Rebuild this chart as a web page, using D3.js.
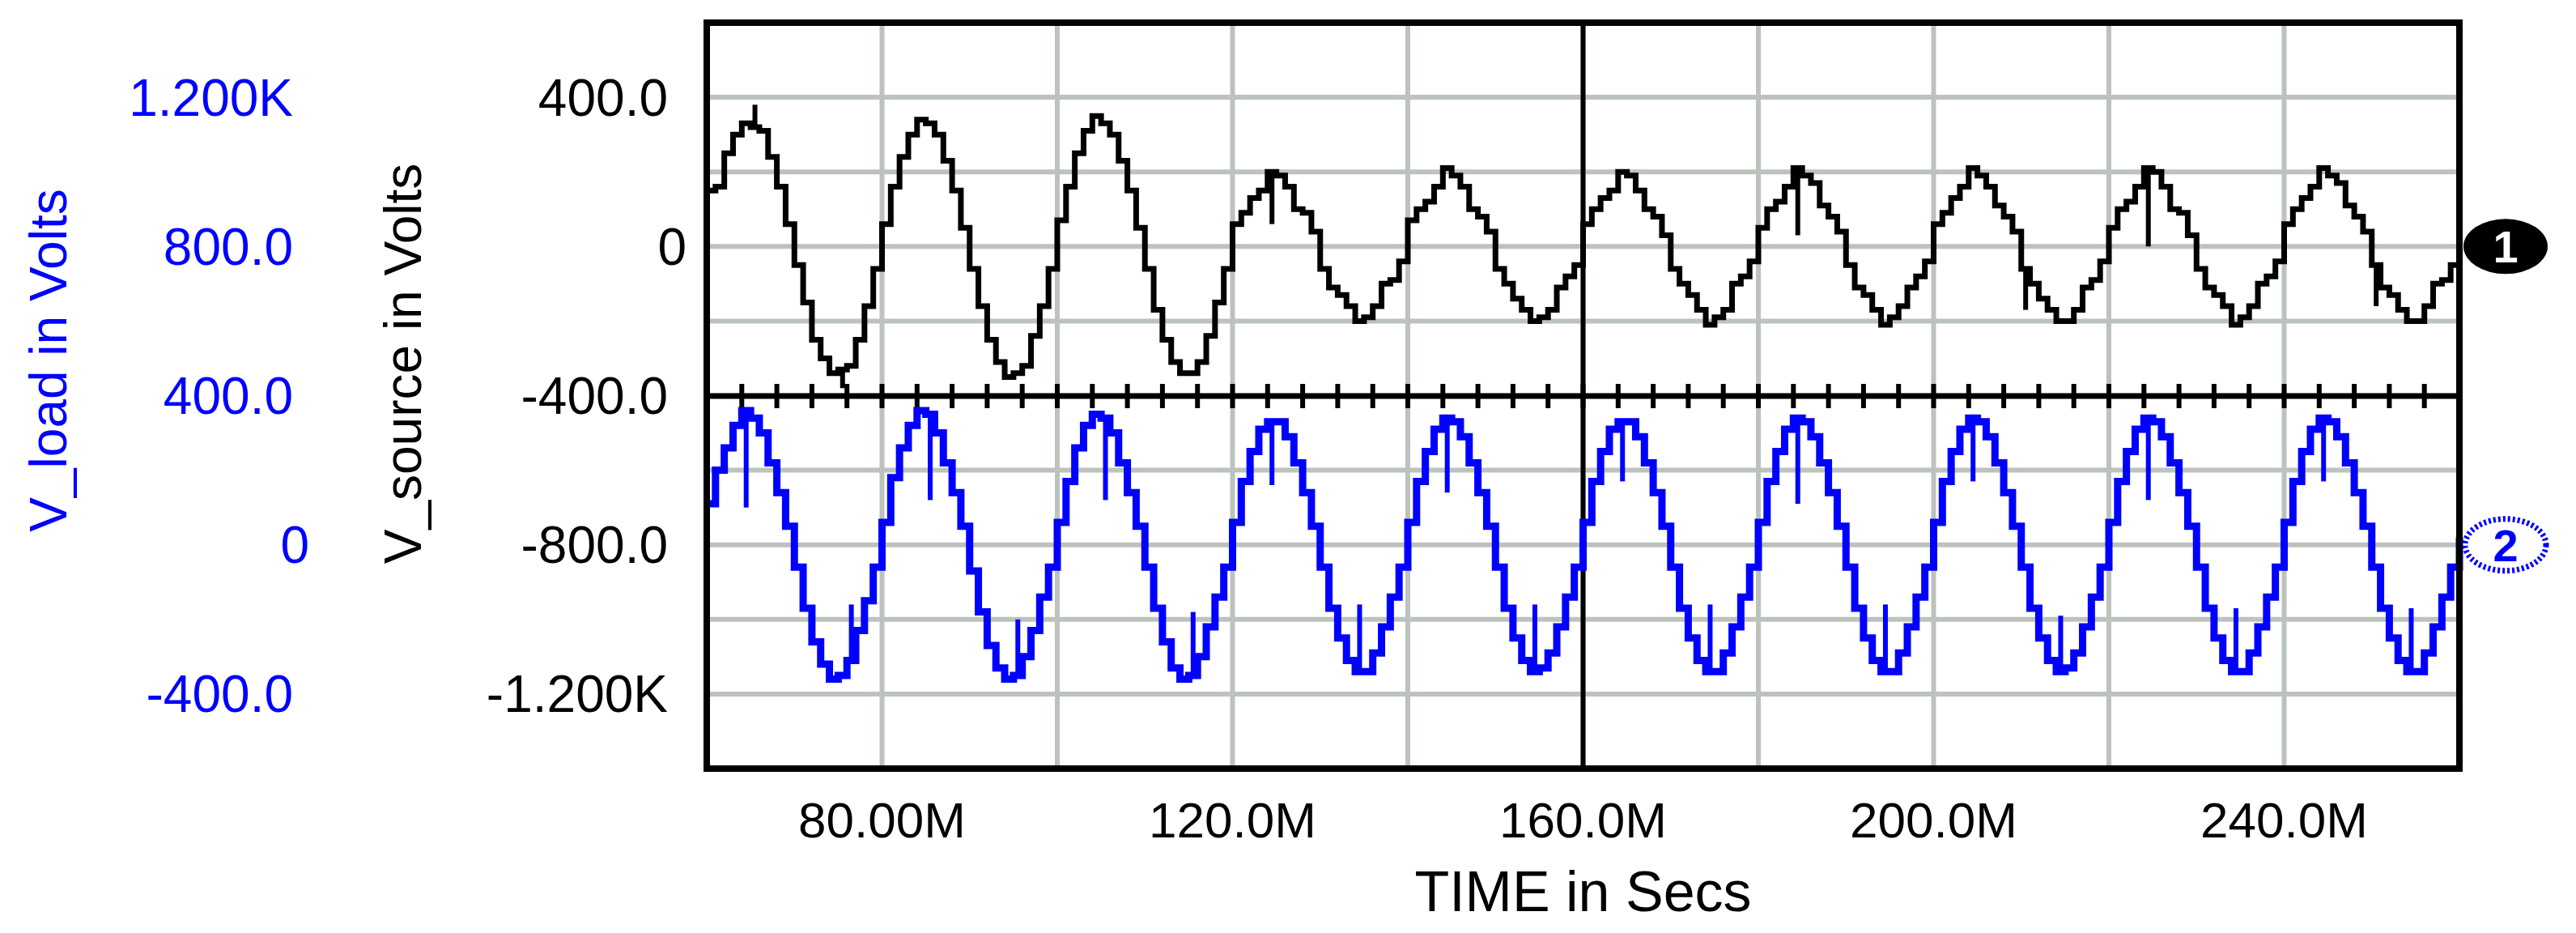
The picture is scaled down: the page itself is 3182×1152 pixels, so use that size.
<!DOCTYPE html>
<html><head><meta charset="utf-8">
<script src="https://cdn.jsdelivr.net/npm/d3@7/dist/d3.min.js"></script>
<style>body{margin:0;background:#fff}text{font-family:"Liberation Sans",Arial,sans-serif}</style>
</head><body><svg id="c" width="3182" height="1152"></svg>
<script>
// time in ms (M = milli), sample every 1 ms
const timeStart = 60, timeEnd = 260;
const xTickVals = [80,120,160,200,240];
const xTickLabels = ["80.00M","120.0M","160.0M","200.0M","240.0M"];
const srcTickVals = [400,0,-400,-800,-1200];
const srcTickLabels = ["400.0","0","-400.0","-800.0","-1.200K"];
const loadTickVals = [1200,800,400,0,-400];
const loadTickLabels = ["1.200K","800.0","400.0","0","-400.0"];
// V_source samples (V)
const vSource = [
 150,160,250,300,330,320,310,240,160,60,-50,-150,-250,-300,-340,-330,-320,-250,-160,-60,
 60,160,240,300,340,330,300,230,150,50,-60,-160,-250,-310,-350,-340,-320,-240,-160,-60,
 70,160,250,310,350,330,300,230,150,50,-60,-170,-250,-310,-340,-340,-310,-240,-150,-60,
 60,90,130,150,200,190,160,100,90,40,-60,-110,-130,-160,-200,-190,-160,-100,-90,-40,
 70,100,120,160,210,190,160,100,80,40,-60,-100,-140,-170,-200,-190,-170,-110,-80,-50,
 60,100,130,150,200,190,150,100,80,30,-60,-100,-130,-170,-210,-190,-170,-100,-80,-40,
 50,100,120,160,210,190,170,110,80,40,-50,-110,-130,-170,-210,-190,-160,-110,-80,-40,
 60,90,130,160,210,190,160,110,80,40,-60,-100,-140,-170,-200,-200,-170,-110,-90,-40,
 50,100,120,160,210,200,160,100,90,30,-60,-110,-130,-160,-210,-190,-160,-100,-80,-40,
 60,100,130,160,210,190,170,110,80,40,-50,-110,-130,-170,-200,-200,-160,-100,-90,-50,
 -60
];
// V_load samples (V)
const vLoad = [
 110,200,260,320,360,340,300,220,140,50,-60,-170,-260,-320,-360,-350,-310,-230,-150,-60,
 60,180,260,320,360,350,300,220,140,50,-70,-180,-270,-330,-360,-350,-300,-230,-140,-60,
 60,170,260,320,350,340,300,220,140,50,-60,-170,-260,-330,-360,-350,-300,-220,-140,-60,
 60,170,250,310,330,330,290,220,140,50,-60,-170,-250,-310,-340,-340,-290,-220,-140,-60,
 60,170,250,310,340,330,290,220,140,50,-60,-170,-250,-310,-340,-330,-290,-220,-140,-60,
 60,170,250,310,330,330,290,220,140,50,-60,-170,-250,-310,-340,-340,-290,-220,-140,-60,
 60,170,250,310,340,330,290,220,140,50,-60,-170,-250,-310,-340,-340,-290,-220,-140,-60,
 60,170,250,310,340,330,290,220,140,50,-60,-170,-250,-310,-340,-330,-290,-220,-140,-60,
 60,170,250,310,340,330,290,220,140,50,-60,-170,-250,-310,-340,-340,-290,-220,-140,-60,
 60,170,250,310,340,330,290,220,140,50,-60,-170,-250,-310,-340,-340,-290,-220,-140,-60,
 20
];
// spikes: time, value reached
const loadSpikeT = [64.5,76.5,85.5,95.5,105.5,115.5,124.5,134.5,144.5,154.5,164.5,174.5,184.5,194.5,204.5,214.5,224.5,234.5,244.5,254.5];
const loadSpikeV = [100,-160,120,-200,120,-180,160,-160,140,-160,170,-160,110,-160,170,-190,120,-170,170,-170];
const srcSpikeT = [65.5,75.5,124.5,164.5,184.5,210.5,224.5,250.5];
const srcSpikeV = [380,-380,60,200,30,-170,0,-160];

const svg = d3.select("#c");
const L=873,R=3038,T=28,B=949,MID=489;
const x = d3.scaleLinear().domain([timeStart,timeEnd]).range([L,R]);
const yS = d3.scaleLinear().domain([-1400,600]).range([B,T]);
const yL = d3.scaleLinear().domain([-600,1400]).range([B,T]);
const grid="#bcc3bd";
svg.append("g").selectAll("line").data(d3.range(80,260,20)).join("line")
 .attr("x1",d=>x(d)).attr("x2",d=>x(d)).attr("y1",T).attr("y2",B).attr("stroke",grid).attr("stroke-width",6);
svg.append("g").selectAll("line").data(d3.range(-1200,600,200)).join("line")
 .attr("x1",L).attr("x2",R).attr("y1",d=>yS(d)).attr("y2",d=>yS(d)).attr("stroke",grid).attr("stroke-width",6);
svg.append("line").attr("x1",L).attr("x2",R).attr("y1",MID).attr("y2",MID).attr("stroke","#000").attr("stroke-width",7);
svg.append("line").attr("x1",x(160)).attr("x2",x(160)).attr("y1",T).attr("y2",B).attr("stroke","#000").attr("stroke-width",6);
svg.append("g").selectAll("line").data(d3.range(64,260,4)).join("line")
 .attr("x1",d=>x(d)).attr("x2",d=>x(d)).attr("y1",MID-15).attr("y2",MID+15).attr("stroke","#000").attr("stroke-width",6);
const pts = arr => arr.map((v,i)=>[timeStart+i,v]);
const lineS = d3.line().x(d=>x(d[0])).y(d=>yS(d[1])).curve(d3.curveStepAfter);
const lineL = d3.line().x(d=>x(d[0])).y(d=>yL(d[1])).curve(d3.curveStepAfter);
svg.append("path").attr("d",lineL(pts(vLoad))).attr("fill","none").attr("stroke","#0000ff").attr("stroke-width",9);
svg.append("path").attr("d",lineS(pts(vSource))).attr("fill","none").attr("stroke","#000").attr("stroke-width",7);
const vAt=(arr,t)=>arr[Math.floor(t)-timeStart];
svg.append("g").selectAll("line").data(loadSpikeT).join("line")
 .attr("x1",d=>x(d)).attr("x2",d=>x(d)).attr("y1",d=>yL(vAt(vLoad,d))).attr("y2",(d,i)=>yL(loadSpikeV[i]))
 .attr("stroke","#0000ff").attr("stroke-width",6);
svg.append("g").selectAll("line").data(srcSpikeT).join("line")
 .attr("x1",d=>x(d)).attr("x2",d=>x(d)).attr("y1",d=>yS(vAt(vSource,d))).attr("y2",(d,i)=>yS(srcSpikeV[i]))
 .attr("stroke","#000").attr("stroke-width",6);
svg.append("rect").attr("x",L).attr("y",T).attr("width",R-L).attr("height",B-T).attr("fill","none").attr("stroke","#000").attr("stroke-width",8);
const fs=64;
svg.append("g").selectAll("text").data(srcTickVals).join("text")
 .attr("x",d=>d===0?848:825).attr("y",d=>yS(d)).attr("dy","0.35em").attr("text-anchor","end")
 .attr("font-size",fs).attr("fill","#000").text((d,i)=>srcTickLabels[i]);
svg.append("g").selectAll("text").data(loadTickVals).join("text")
 .attr("x",d=>d===0?382:362).attr("y",d=>yL(d)).attr("dy","0.35em").attr("text-anchor","end")
 .attr("font-size",fs).attr("fill","#0000ff").text((d,i)=>loadTickLabels[i]);
svg.append("g").selectAll("text").data(xTickVals).join("text")
 .attr("x",d=>x(d)).attr("y",1012).attr("dy","0.35em").attr("text-anchor","middle")
 .attr("font-size",62).attr("fill","#000").text((d,i)=>xTickLabels[i]);
svg.append("text").attr("x",x(160)).attr("y",1100).attr("dy","0.35em").attr("text-anchor","middle")
 .attr("font-size",70).attr("fill","#000").text("TIME in Secs");
svg.append("text").attr("transform","translate(82,445) rotate(-90)").attr("text-anchor","middle")
 .attr("font-size",64).attr("fill","#0000ff").text("V_load in Volts");
svg.append("text").attr("transform","translate(520,449) rotate(-90)").attr("text-anchor","middle")
 .attr("font-size",64).attr("fill","#000").text("V_source in Volts");
const mk = svg.append("g");
mk.append("ellipse").attr("cx",3095).attr("cy",yS(0)).attr("rx",52).attr("ry",34).attr("fill","#000");
mk.append("text").attr("x",3095).attr("y",yS(0)).attr("dy","0.36em").attr("text-anchor","middle").attr("font-size",56).attr("font-weight","bold").attr("fill","#fff").text("1");
mk.append("ellipse").attr("cx",3095).attr("cy",yS(-800)).attr("rx",50).attr("ry",32).attr("fill","#fff").attr("stroke","#0000ff").attr("stroke-width",7).attr("stroke-dasharray","3,3");
mk.append("text").attr("x",3095).attr("y",yS(-800)).attr("dy","0.36em").attr("text-anchor","middle").attr("font-size",56).attr("font-weight","bold").attr("fill","#0000ff").text("2");
</script></body></html>
